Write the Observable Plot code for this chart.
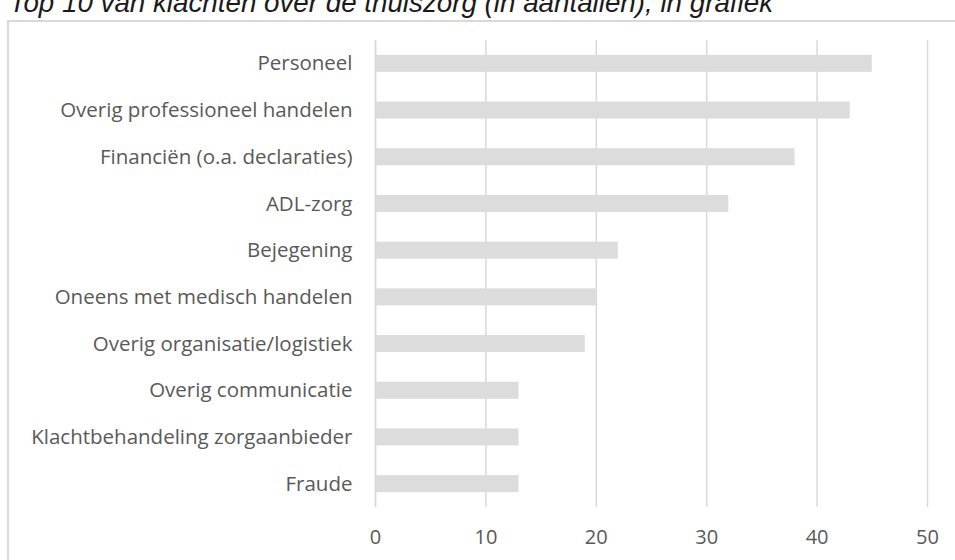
<!DOCTYPE html>
<html><head><meta charset="utf-8">
<script src="https://cdn.jsdelivr.net/npm/d3@7"></script>
<script src="https://cdn.jsdelivr.net/npm/@observablehq/plot@0.6"></script>
<style>
html,body{margin:0;padding:0;background:#fff;overflow:hidden;width:955px;height:560px}
#frame{position:absolute;left:7px;top:20px;width:1000px;height:600px;border:2px solid #d9d9d9;box-sizing:border-box}
#title{position:absolute;left:0;top:0}
#chart{position:absolute;left:0;top:0}
</style></head><body>
<div id="frame"></div>
<svg id="title" width="955" height="20"><text x="9" y="12" font-style="italic" font-family="'Liberation Sans Narrow', 'Liberation Sans', Arial, sans-serif" font-size="28" fill="#1a1a1a" textLength="764" lengthAdjust="spacingAndGlyphs">Top 10 van klachten over de thuiszorg (in aantallen), in grafiek</text></svg>
<div id="chart"></div>
<script>
const categories = [
  "Personeel",
  "Overig professioneel handelen",
  "Financiën (o.a. declaraties)",
  "ADL-zorg",
  "Bejegening",
  "Oneens met medisch handelen",
  "Overig organisatie/logistiek",
  "Overig communicatie",
  "Klachtbehandeling zorgaanbieder",
  "Fraude"
];
const counts = [45, 43, 38, 32, 22, 20, 19, 13, 13, 13];
const xTicks = [0, 10, 20, 30, 40, 50];

const data = categories.map((c, i) => ({category: c, count: counts[i]}));

const chart = Plot.plot({
  width: 955,
  height: 560,
  marginLeft: 375,
  marginRight: 28,
  marginTop: 40,
  marginBottom: 53,
  style: {background: "transparent", color: "#595959", fontFamily: "'Open Sans', sans-serif"},
  x: {domain: [0, 50], ticks: xTicks, label: null},
  y: {domain: categories, padding: 0, round: false, label: null},
  marks: [
    Plot.gridX(xTicks, {stroke: "#d9d9d9", strokeOpacity: 1, strokeWidth: 1.5}),
    Plot.barX(data, {x: "count", y: "category", fill: "#dcdcdc", insetTop: 14.85, insetBottom: 14.85}),
    Plot.ruleX([0], {stroke: "#d9d9d9", strokeWidth: 1.5}),
    Plot.axisX(xTicks, {tickSize: 0, tickPadding: 22, fontSize: 20, fill: "#595959", label: null}),
    Plot.axisY({tickSize: 0, tickPadding: 23, fontSize: 20.5, fill: "#595959", label: null})
  ]
});
document.getElementById("chart").appendChild(chart);
</script>
</body></html>
